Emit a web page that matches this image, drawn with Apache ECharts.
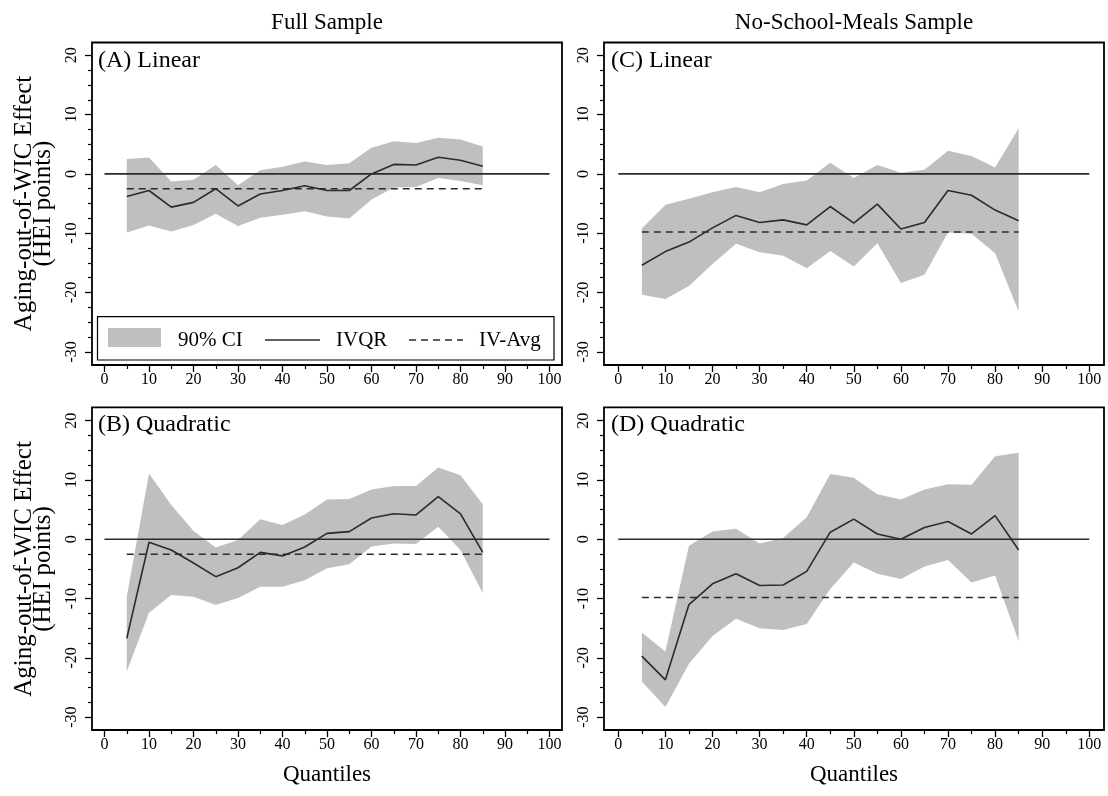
<!DOCTYPE html>
<html>
<head>
<meta charset="utf-8">
<script src="https://cdn.jsdelivr.net/npm/echarts@6/dist/echarts.min.js"></script>
<style>
  html, body { margin: 0; padding: 0; background: #fff; }
  #main { width: 1108px; height: 796px; }
</style>
</head>
<body>
<div id="main"></div>
<script>
// quantiles on the x axis
const quantiles = [5, 10, 15, 20, 25, 30, 35, 40, 45, 50, 55, 60, 65, 70, 75, 80, 85];
const zeroX = [0, 100];

// (A) Full sample, linear
const aIvqr = [-3.8, -2.8, -5.6, -4.8, -2.5, -5.4, -3.4, -2.8, -2.0, -2.8, -2.8, 0.0, 1.6, 1.5, 2.8, 2.3, 1.3];
const aHi   = [2.5, 2.75, -1.3, -1.0, 1.5, -1.9, 0.6, 1.2, 2.1, 1.5, 1.8, 4.4, 5.5, 5.2, 6.1, 5.8, 4.6];
const aLo   = [-9.9, -8.7, -9.7, -8.6, -6.7, -8.8, -7.4, -6.9, -6.3, -7.2, -7.5, -4.3, -2.3, -2.2, -0.7, -1.2, -1.9];
const aIvAvg = -2.5;

// (B) Full sample, quadratic
const bIvqr = [-16.7, -0.5, -1.8, -4.0, -6.3, -4.8, -2.2, -2.8, -1.3, 1.0, 1.3, 3.6, 4.3, 4.1, 7.2, 4.3, -2.2];
const bHi   = [-9.7, 11.1, 5.8, 1.4, -1.4, -0.1, 3.4, 2.4, 4.2, 6.7, 6.8, 8.4, 9.0, 9.0, 12.1, 10.8, 5.9];
const bLo   = [-22.3, -12.4, -9.4, -9.7, -11.1, -9.9, -8.0, -8.0, -6.9, -4.9, -4.2, -1.2, -0.7, -0.8, 2.1, -1.8, -9.1];
const bIvAvg = -2.5;

// (C) No-school-meals sample, linear
const cIvqr = [-15.4, -13.1, -11.5, -9.1, -7.0, -8.2, -7.75, -8.6, -5.5, -8.3, -5.1, -9.3, -8.2, -2.8, -3.6, -6.1, -7.9];
const cHi   = [-9.2, -5.2, -4.2, -3.1, -2.2, -3.1, -1.7, -1.1, 1.9, -0.7, 1.5, 0.2, 0.7, 3.9, 3.0, 1.1, 7.7];
const cLo   = [-20.4, -21.1, -18.9, -15.2, -11.8, -13.2, -13.8, -15.9, -13.0, -15.6, -11.7, -18.4, -17.0, -9.9, -10.1, -13.4, -23.2];
const cIvAvg = -9.8;

// (D) No-school-meals sample, quadratic
const dIvqr = [-19.7, -23.7, -11.0, -7.5, -5.8, -7.8, -7.7, -5.4, 1.2, 3.4, 0.9, 0.0, 2.0, 3.0, 0.9, 4.0, -1.8];
const dHi   = [-15.7, -18.9, -1.1, 1.3, 1.8, -0.7, 0.2, 3.7, 11.0, 10.4, 7.6, 6.7, 8.4, 9.3, 9.2, 14.0, 14.6];
const dLo   = [-24.0, -28.3, -21.0, -16.3, -13.4, -15.0, -15.3, -14.3, -8.4, -3.9, -5.8, -6.7, -4.6, -3.5, -7.3, -6.1, -17.2];
const dIvAvg = -9.8;

const FONT = '"Liberation Serif", "DejaVu Serif", serif';
const INK = '#000';
const LINE = '#2b2b2b';
const BAND = '#bfbfbf';

let chartDom = document.getElementById('main');
let myChart = echarts.init(chartDom, null, { renderer: 'canvas' });

// panel boxes: grid = data range, frame = Stata plot region
const panels = [
  { ivqr: aIvqr, hi: aHi, lo: aLo, avg: aIvAvg, grid: { left: 104.5, top: 55.3, width: 445, height: 296.5 }, frame: [92, 42.5, 562, 365] },
  { ivqr: cIvqr, hi: cHi, lo: cLo, avg: cIvAvg, grid: { left: 618.3, top: 55.3, width: 471, height: 296.5 }, frame: [604, 42.5, 1104, 365] },
  { ivqr: bIvqr, hi: bHi, lo: bLo, avg: bIvAvg, grid: { left: 104.5, top: 420.7, width: 445, height: 296.5 }, frame: [92, 407.3, 562, 730] },
  { ivqr: dIvqr, hi: dHi, lo: dLo, avg: dIvAvg, grid: { left: 618.3, top: 420.7, width: 471, height: 296.5 }, frame: [604, 407.3, 1104, 730] }
];

let grids = [], xAxes = [], yAxes = [], series = [], graphics = [];

panels.forEach(function (p, i) {
  grids.push(Object.assign({ containLabel: false }, p.grid));
  let f = p.frame;
  xAxes.push({
    type: 'value', gridIndex: i, min: 0, max: 100, interval: 10,
    position: 'bottom',
    offset: f[3] - (p.grid.top + p.grid.height),
    axisLine: { show: false, onZero: false },
    axisTick: { show: true, length: 7, lineStyle: { color: INK, width: 1.3 } },
    minorTick: { show: true, splitNumber: 2, length: 4, lineStyle: { color: INK, width: 1.2 } },
    axisLabel: { margin: 7, color: INK, fontFamily: FONT, fontSize: 16 },
    splitLine: { show: false }
  });
  yAxes.push({
    type: 'value', gridIndex: i, min: -30, max: 20, interval: 10,
    position: 'left',
    offset: p.grid.left - f[0],
    name: (i % 2 === 0) ? 'Aging-out-of-WIC Effect\n(HEI points)' : '',
    nameLocation: 'middle', nameRotate: 90, nameGap: 39,
    nameTextStyle: { color: INK, fontFamily: FONT, fontSize: 25, lineHeight: 19 },
    axisLine: { show: false, onZero: false },
    axisTick: { show: true, length: 7, lineStyle: { color: INK, width: 1.3 } },
    minorTick: { show: true, splitNumber: 4, length: 4, lineStyle: { color: INK, width: 1.2 } },
    axisLabel: { rotate: 90, margin: 12, color: INK, fontFamily: FONT, fontSize: 16 },
    splitLine: { show: false }
  });

  // 90% CI band as one polygon, built through the axis scale
  series.push({
    type: 'custom', xAxisIndex: i, yAxisIndex: i, silent: true, z: 1,
    data: quantiles.map(function (q, k) { return [q, p.lo[k], p.hi[k]]; }),
    renderItem: function (params, api) {
      if (params.dataIndex !== 0) return null;
      let pts = [];
      quantiles.forEach(function (q, k) { pts.push(api.coord([q, p.hi[k]])); });
      for (let k = quantiles.length - 1; k >= 0; k--) pts.push(api.coord([quantiles[k], p.lo[k]]));
      return { type: 'polygon', shape: { points: pts }, style: { fill: BAND, stroke: null } };
    }
  });
  // zero line
  series.push({
    type: 'line', xAxisIndex: i, yAxisIndex: i,
    data: zeroX.map(function (x) { return [x, 0]; }),
    symbol: 'none', lineStyle: { color: LINE, width: 1.6 }, silent: true, z: 2
  });
  // IV-Avg
  series.push({
    type: 'line', xAxisIndex: i, yAxisIndex: i,
    data: [[quantiles[0], p.avg], [quantiles[quantiles.length - 1], p.avg]],
    symbol: 'none', lineStyle: { color: LINE, width: 1.5, type: [7, 5] }, silent: true, z: 3
  });
  // IVQR
  series.push({
    type: 'line', xAxisIndex: i, yAxisIndex: i,
    data: quantiles.map(function (q, k) { return [q, p.ivqr[k]]; }),
    symbol: 'none', lineStyle: { color: LINE, width: 1.6 }, silent: true, z: 4
  });

  // plot frame
  graphics.push({
    type: 'rect', z: 100, silent: true,
    shape: { x: f[0], y: f[1], width: f[2] - f[0], height: f[3] - f[1] },
    style: { fill: 'none', stroke: INK, lineWidth: 1.8 }
  });
});

function txt(text, x, y, size, align) {
  return {
    type: 'text', x: x, y: y, z: 101, silent: true,
    style: { text: text, fill: INK, fontFamily: FONT, fontSize: size, align: align || 'left', verticalAlign: 'middle' }
  };
}

// panel labels
graphics.push(txt('(A) Linear', 98, 61, 24));
graphics.push(txt('(C) Linear', 611, 61, 24));
graphics.push(txt('(B) Quadratic', 98, 425, 24));
graphics.push(txt('(D) Quadratic', 611, 425, 24));

// column titles and x titles
graphics.push(txt('Full Sample', 327, 23, 23, 'center'));
graphics.push(txt('No-School-Meals Sample', 854, 23, 23, 'center'));
graphics.push(txt('Quantiles', 327, 775, 23, 'center'));
graphics.push(txt('Quantiles', 854, 775, 23, 'center'));

// legend inside panel A
graphics.push({
  type: 'rect', z: 100, silent: true,
  shape: { x: 97.5, y: 316.7, width: 456.5, height: 43.3 },
  style: { fill: '#fff', stroke: INK, lineWidth: 1.2 }
});
graphics.push({
  type: 'rect', z: 101, silent: true,
  shape: { x: 108, y: 328, width: 53, height: 19 },
  style: { fill: BAND }
});
graphics.push({
  type: 'line', z: 101, silent: true,
  shape: { x1: 265, y1: 340, x2: 320, y2: 340 },
  style: { stroke: LINE, lineWidth: 1.6 }
});
graphics.push({
  type: 'line', z: 101, silent: true,
  shape: { x1: 409, y1: 340, x2: 463, y2: 340 },
  style: { stroke: LINE, lineWidth: 1.5, lineDash: [7, 5] }
});
graphics.push(txt('90% CI', 178, 340, 21));
graphics.push(txt('IVQR', 336, 340, 21));
graphics.push(txt('IV-Avg', 479, 340, 21));

let option = {
  animation: false,
  backgroundColor: '#fff',
  grid: grids,
  xAxis: xAxes,
  yAxis: yAxes,
  series: series,
  graphic: graphics
};

option && myChart.setOption(option);
</script>
</body>
</html>
